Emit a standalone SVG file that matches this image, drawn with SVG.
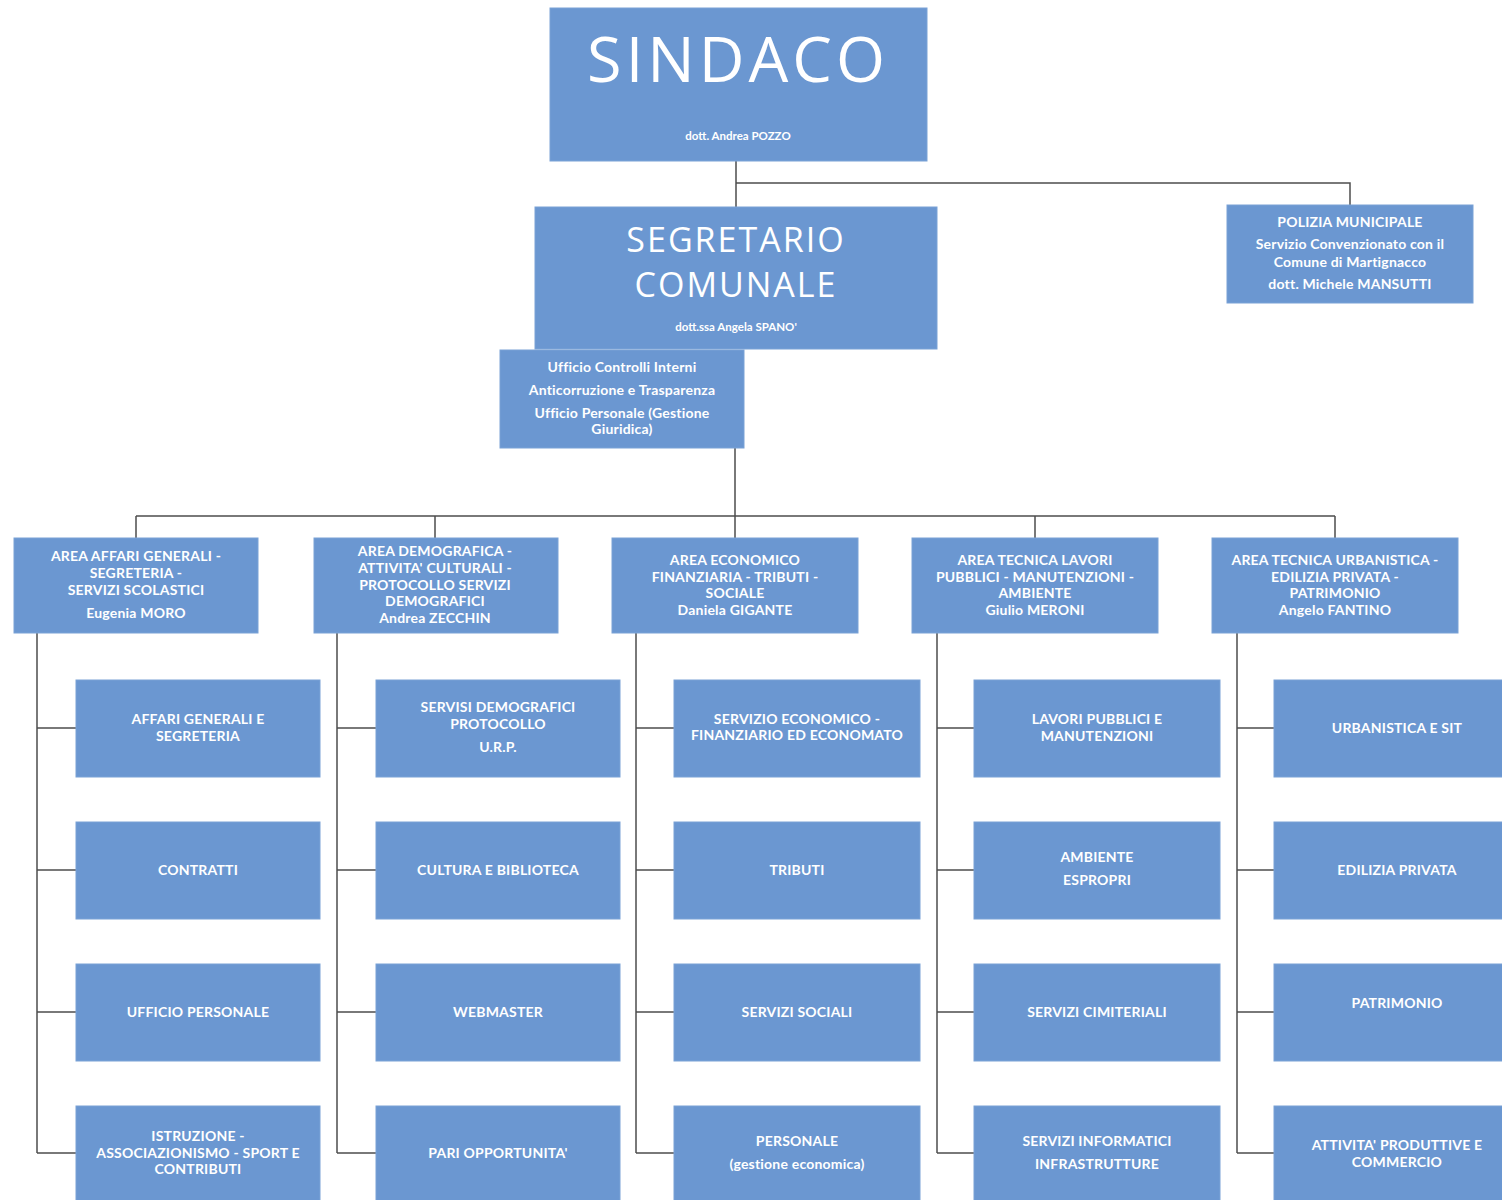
<svg xmlns="http://www.w3.org/2000/svg" width="1502" height="1200" viewBox="0 0 1502 1200">
<style>
.box{fill:#6b97d1;stroke:#7aa2d6;stroke-width:1}
.ln{fill:none;stroke:#4d4d4d;stroke-width:1.5}
.t{font-family:Lato,"Open Sans","Liberation Sans",sans-serif;font-weight:bold;font-size:14px;fill:#ffffff;text-anchor:middle;letter-spacing:0.2px}
.s{font-size:11.5px;letter-spacing:0}
.big{font-family:"Open Sans","Liberation Sans",sans-serif;font-weight:normal;fill:#ffffff;text-anchor:middle}
</style>
<rect width="1502" height="1200" fill="#ffffff"/>
<g id="connectors">
<path class="ln" d="M736 161V207M736 183H1350V205"/>
<path class="ln" d="M735 448V516M136 516H1335M136 516V538M435 516V538M735 516V538M1035 516V538M1335 516V538"/>
<path class="ln" d="M37 633V1153M37 728H76M37 870H76M37 1012H76M37 1153H76"/>
<path class="ln" d="M337 633V1153M337 728H376M337 870H376M337 1012H376M337 1153H376"/>
<path class="ln" d="M636 633V1153M636 728H674M636 870H674M636 1012H674M636 1153H674"/>
<path class="ln" d="M937 633V1153M937 728H974M937 870H974M937 1012H974M937 1153H974"/>
<path class="ln" d="M1237 633V1153M1237 728H1274M1237 870H1274M1237 1012H1274M1237 1153H1274"/>
</g>
<g id="sindaco"><rect class="box" x="550" y="8" width="377" height="153"/>
<text class="big" x="738" y="82" font-size="63" letter-spacing="4">SINDACO</text>
<text class="t s" x="738" y="140">dott. Andrea POZZO</text></g>
<g id="segretario"><rect class="box" x="535" y="207" width="402" height="142"/>
<text class="big" x="736" y="252" font-size="34" letter-spacing="2">SEGRETARIO</text>
<text class="big" x="736" y="297" font-size="34" letter-spacing="2">COMUNALE</text>
<text class="t s" x="736" y="331">dott.ssa Angela SPANO'</text></g>
<g id="ufficio"><rect class="box" x="500" y="350" width="244" height="98"/>
<text class="t" x="622" y="372">Ufficio Controlli Interni</text>
<text class="t" x="622" y="395">Anticorruzione e Trasparenza</text>
<text class="t" x="622" y="418">Ufficio Personale (Gestione</text>
<text class="t" x="622" y="434">Giuridica)</text></g>
<g id="polizia"><rect class="box" x="1227" y="205" width="246" height="98"/>
<text class="t" x="1350" y="227">POLIZIA MUNICIPALE</text>
<text class="t" x="1350" y="249">Servizio Convenzionato con il</text>
<text class="t" x="1350" y="267">Comune di Martignacco</text>
<text class="t" x="1350" y="289">dott. Michele MANSUTTI</text></g>
<g id="area1"><rect class="box" x="14" y="538" width="244" height="95"/>
<text class="t" x="136" y="561">AREA AFFARI GENERALI  -</text>
<text class="t" x="136" y="578">SEGRETERIA -</text>
<text class="t" x="136" y="595">SERVIZI SCOLASTICI</text>
<text class="t" x="136" y="618">Eugenia MORO</text></g>
<g id="area2"><rect class="box" x="314" y="538" width="244" height="95"/>
<text class="t" x="435" y="556">AREA DEMOGRAFICA -</text>
<text class="t" x="435" y="573">ATTIVITA' CULTURALI -</text>
<text class="t" x="435" y="590">PROTOCOLLO SERVIZI</text>
<text class="t" x="435" y="606">DEMOGRAFICI</text>
<text class="t" x="435" y="623">Andrea ZECCHIN</text></g>
<g id="area3"><rect class="box" x="612" y="538" width="246" height="95"/>
<text class="t" x="735" y="565">AREA ECONOMICO</text>
<text class="t" x="735" y="582">FINANZIARIA - TRIBUTI -</text>
<text class="t" x="735" y="598">SOCIALE</text>
<text class="t" x="735" y="615">Daniela GIGANTE</text></g>
<g id="area4"><rect class="box" x="912" y="538" width="246" height="95"/>
<text class="t" x="1035" y="565">AREA TECNICA LAVORI</text>
<text class="t" x="1035" y="582">PUBBLICI - MANUTENZIONI -</text>
<text class="t" x="1035" y="598">AMBIENTE</text>
<text class="t" x="1035" y="615">Giulio MERONI</text></g>
<g id="area5"><rect class="box" x="1212" y="538" width="246" height="95"/>
<text class="t" x="1335" y="565">AREA TECNICA URBANISTICA -</text>
<text class="t" x="1335" y="582">EDILIZIA PRIVATA -</text>
<text class="t" x="1335" y="598">PATRIMONIO</text>
<text class="t" x="1335" y="615">Angelo FANTINO</text></g>
<g id="c1r1"><rect class="box" x="76" y="680" width="244" height="97"/><text class="t" x="198" y="724">AFFARI  GENERALI  E</text><text class="t" x="198" y="741">SEGRETERIA</text></g>
<g id="c1r2"><rect class="box" x="76" y="822" width="244" height="97"/><text class="t" x="198" y="875">CONTRATTI</text></g>
<g id="c1r3"><rect class="box" x="76" y="964" width="244" height="97"/><text class="t" x="198" y="1017">UFFICIO PERSONALE</text></g>
<g id="c1r4"><rect class="box" x="76" y="1106" width="244" height="97"/><text class="t" x="198" y="1141">ISTRUZIONE -</text><text class="t" x="198" y="1158">ASSOCIAZIONISMO - SPORT E</text><text class="t" x="198" y="1174">CONTRIBUTI</text></g>
<g id="c2r1"><rect class="box" x="376" y="680" width="244" height="97"/><text class="t" x="498" y="712">SERVISI DEMOGRAFICI</text><text class="t" x="498" y="729">PROTOCOLLO</text><text class="t" x="498" y="752">U.R.P.</text></g>
<g id="c2r2"><rect class="box" x="376" y="822" width="244" height="97"/><text class="t" x="498" y="875">CULTURA E BIBLIOTECA</text></g>
<g id="c2r3"><rect class="box" x="376" y="964" width="244" height="97"/><text class="t" x="498" y="1017">WEBMASTER</text></g>
<g id="c2r4"><rect class="box" x="376" y="1106" width="244" height="97"/><text class="t" x="498" y="1158">PARI OPPORTUNITA'</text></g>
<g id="c3r1"><rect class="box" x="674" y="680" width="246" height="97"/><text class="t" x="797" y="724">SERVIZIO ECONOMICO -</text><text class="t" x="797" y="740">FINANZIARIO ED ECONOMATO</text></g>
<g id="c3r2"><rect class="box" x="674" y="822" width="246" height="97"/><text class="t" x="797" y="875">TRIBUTI</text></g>
<g id="c3r3"><rect class="box" x="674" y="964" width="246" height="97"/><text class="t" x="797" y="1017">SERVIZI SOCIALI</text></g>
<g id="c3r4"><rect class="box" x="674" y="1106" width="246" height="97"/><text class="t" x="797" y="1146">PERSONALE</text><text class="t" x="797" y="1169">(gestione economica)</text></g>
<g id="c4r1"><rect class="box" x="974" y="680" width="246" height="97"/><text class="t" x="1097" y="724">LAVORI PUBBLICI E</text><text class="t" x="1097" y="741">MANUTENZIONI</text></g>
<g id="c4r2"><rect class="box" x="974" y="822" width="246" height="97"/><text class="t" x="1097" y="862">AMBIENTE</text><text class="t" x="1097" y="885">ESPROPRI</text></g>
<g id="c4r3"><rect class="box" x="974" y="964" width="246" height="97"/><text class="t" x="1097" y="1017">SERVIZI CIMITERIALI</text></g>
<g id="c4r4"><rect class="box" x="974" y="1106" width="246" height="97"/><text class="t" x="1097" y="1146">SERVIZI INFORMATICI</text><text class="t" x="1097" y="1169">INFRASTRUTTURE</text></g>
<g id="c5r1"><rect class="box" x="1274" y="680" width="246" height="97"/><text class="t" x="1397" y="733">URBANISTICA E SIT</text></g>
<g id="c5r2"><rect class="box" x="1274" y="822" width="246" height="97"/><text class="t" x="1397" y="875">EDILIZIA PRIVATA</text></g>
<g id="c5r3"><rect class="box" x="1274" y="964" width="246" height="97"/><text class="t" x="1397" y="1008">PATRIMONIO</text></g>
<g id="c5r4"><rect class="box" x="1274" y="1106" width="246" height="97"/><text class="t" x="1397" y="1150">ATTIVITA' PRODUTTIVE E</text><text class="t" x="1397" y="1167">COMMERCIO</text></g>
</svg>
